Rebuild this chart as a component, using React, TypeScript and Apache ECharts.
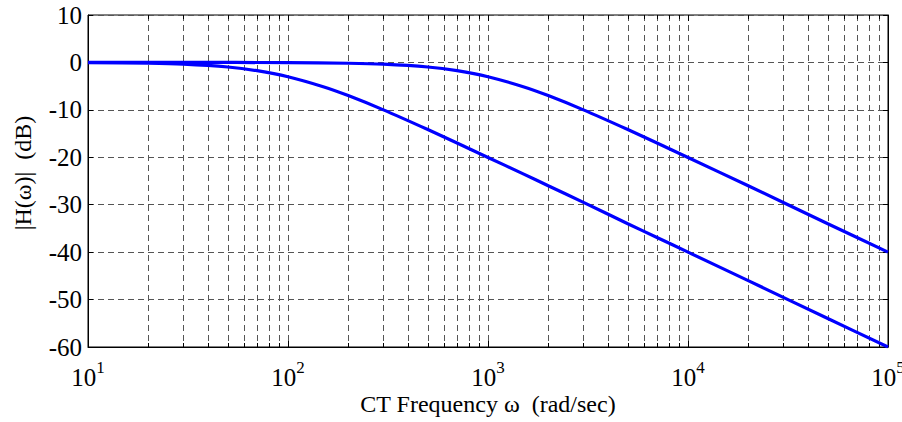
import React, { useEffect, useRef } from "react";
import * as echarts from "echarts";

const freqA = [10, 20, 30, 50, 70, 100, 150, 200, 300, 500, 700, 1000, 1500, 2000, 3000, 5000, 7000, 10000, 20000, 50000, 100000];
// Lower curve (corner near 100 rad/sec), dB
const magA = [-0.04, -0.17, -0.37, -0.97, -1.74, -3.01, -5.12, -6.99, -10.0, -14.15, -17.0, -20.04, -23.5, -26.0, -29.5, -34.0, -36.9, -40.0, -46.0, -54.0, -60.0];

const freqB = [10, 30, 100, 200, 300, 500, 700, 1000, 1500, 2000, 3000, 5000, 7000, 10000, 20000, 50000, 100000];
// Upper curve (corner near 1000 rad/sec), dB
const magB = [0.0, 0.0, -0.04, -0.17, -0.37, -0.97, -1.74, -3.01, -5.12, -6.99, -10.0, -14.15, -17.0, -20.04, -26.0, -34.0, -40.0];

// Vertical grid positions (log decades and their 2..9 subdivisions)
const xGridLines = [
  20, 30, 40, 50, 60, 70, 80, 90,
  100, 200, 300, 400, 500, 600, 700, 800, 900,
  1000, 2000, 3000, 4000, 5000, 6000, 7000, 8000, 9000,
  10000, 20000, 30000, 40000, 50000, 60000, 70000, 80000, 90000,
];

const xMin = 10;
const xMax = 100000;
const yMin = -60;
const yMax = 10;
const yStep = 10;

const FONT = "'Liberation Serif', 'Times New Roman', serif";

export default function App() {
  const ref = useRef<HTMLDivElement>(null);

  useEffect(() => {
    document.body.style.margin = "0";
    if (!ref.current) return;
    const chart = echarts.init(ref.current, undefined, { renderer: "svg" });

    const toPairs = (xs: number[], ys: number[]) => xs.map((x, i) => [x, ys[i]]);

    chart.setOption({
      animation: false,
      backgroundColor: "#ffffff",
      grid: {
        left: 88,
        top: 15,
        right: 14,
        bottom: 75,
        show: true,
        borderColor: "#000",
        borderWidth: 1,
        containLabel: false,
        outerBoundsMode: "none",
      },
      xAxis: {
        type: "log",
        logBase: 10,
        min: xMin,
        max: xMax,
        name: "CT Frequency ω  (rad/sec)",
        nameLocation: "middle",
        nameGap: 45,
        nameMoveOverlap: false,
        nameTextStyle: { fontFamily: FONT, fontSize: 24, color: "#000" },
        axisLine: { show: true, onZero: false, lineStyle: { color: "#000", width: 1 } },
        axisTick: { show: false },
        splitLine: { show: false },
        minorTick: { show: false },
        axisLabel: {
          show: true,
          margin: 18,
          showMinLabel: true,
          showMaxLabel: true,
          hideOverlap: false,
          formatter: (v: number) => {
            const e = Math.round(Math.log10(v));
            return `{b|10}{s|${e}}`;
          },
          rich: {
            b: { fontFamily: FONT, fontSize: 25, color: "#000", lineHeight: 25 },
            s: { fontFamily: FONT, fontSize: 17, color: "#000", lineHeight: 17, padding: [0, 0, 20, 0] },
          },
        },
      },
      yAxis: [
        {
          type: "value",
          min: yMin,
          max: yMax,
          interval: yStep,
          name: "|H(ω)|  (dB)",
          nameLocation: "middle",
          nameGap: 53,
          nameRotate: 90,
          nameMoveOverlap: false,
          nameTextStyle: { fontFamily: FONT, fontSize: 24, color: "#000", padding: [0, 0, 0, 16] },
          axisLine: { show: true, onZero: false, lineStyle: { color: "#000", width: 1 } },
          axisTick: { show: true, inside: true, length: 5, lineStyle: { color: "#000" } },
          axisLabel: { fontFamily: FONT, fontSize: 25, color: "#000", margin: 6 },
          splitLine: { show: true, lineStyle: { color: "#555", width: 1, type: [6, 4] } },
        },
        {
          type: "value",
          position: "right",
          min: yMin,
          max: yMax,
          interval: yStep,
          axisLine: { show: true, onZero: false, lineStyle: { color: "#000", width: 1 } },
          axisTick: { show: true, inside: true, length: 5, lineStyle: { color: "#000" } },
          axisLabel: { show: false },
          splitLine: { show: false },
        },
      ],
      series: [
        {
          type: "custom",
          xAxisIndex: 0,
          yAxisIndex: 0,
          silent: true,
          z: 1,
          data: xGridLines.map((x) => [x, 0]),
          renderItem: (params: any, api: any) => {
            const v = api.value(0);
            const top = api.coord([v, yMax]);
            const bot = api.coord([v, yMin]);
            const x = Math.round(top[0]) + 0.5;
            const isMajor = [100, 1000, 10000].includes(v);
            const tl = isMajor ? 6 : 4;
            return {
              type: "group",
              children: [
                {
                  type: "line",
                  shape: { x1: x, y1: top[1], x2: x, y2: bot[1] },
                  style: { stroke: "#555", lineWidth: 1, lineDash: [6, 4] },
                },
                {
                  type: "line",
                  shape: { x1: x, y1: top[1], x2: x, y2: top[1] + tl },
                  style: { stroke: "#000", lineWidth: 1 },
                },
                {
                  type: "line",
                  shape: { x1: x, y1: bot[1], x2: x, y2: bot[1] - tl },
                  style: { stroke: "#000", lineWidth: 1 },
                },
              ],
            };
          },
        },
        {
          type: "line",
          name: "upper",
          data: toPairs(freqB, magB),
          showSymbol: false,
          smooth: 0.3,
          z: 5,
          lineStyle: { color: "#0000ff", width: 3.2 },
        },
        {
          type: "line",
          name: "lower",
          data: toPairs(freqA, magA),
          showSymbol: false,
          smooth: 0.3,
          z: 5,
          lineStyle: { color: "#0000ff", width: 3.2 },
        },
      ],
    });

    return () => {
      chart.dispose();
    };
  }, []);

  return <div ref={ref} style={{ width: 902, height: 422 }} />;
}
